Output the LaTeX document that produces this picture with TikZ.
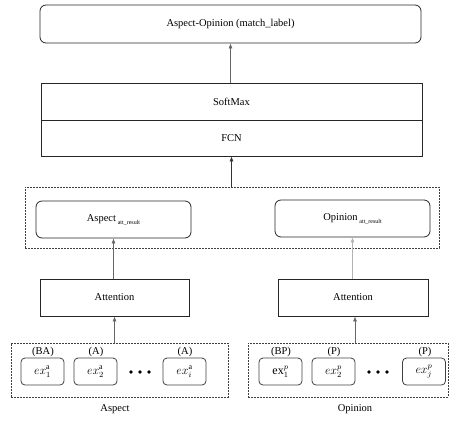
\documentclass[tikz,border=0pt]{standalone}
\usepackage{fontspec}
\setmainfont{Liberation Serif}
\usetikzlibrary{arrows.meta}
\begin{document}
\begin{tikzpicture}[x=1pt,y=-1pt,
  every node/.style={font=\fontsize{10.5}{12}\selectfont},
  rbox/.style={draw=black!85,line width=0.8pt,rounded corners=6pt,minimum height=37pt,inner sep=0pt},
  sbox/.style={draw=black!85,line width=0.8pt,minimum height=37pt,inner sep=0pt},
  exbox/.style={draw=black!75,line width=0.8pt,rounded corners=4pt,minimum width=43pt,minimum height=27pt,inner sep=0pt,font=\fontsize{12}{14}\selectfont},
  dbox/.style={draw=black!75,dashed,dash pattern=on 2pt off 1pt,line width=0.6pt,inner sep=0pt},
  arr/.style={draw=black!60,line width=0.6pt,-{Latex[length=5pt,width=4pt]}},
  lab/.style={inner sep=0pt,font=\fontsize{10.5}{12}\selectfont},
  dotm/.style={fill=black,circle,inner sep=0pt,minimum size=3.6pt}]
\useasboundingbox (0,0) rectangle (449,421);

\node[rbox,minimum width=381pt,minimum height=38pt] (top) at (230.5,24) {Aspect-Opinion (match\_label)};
\node[sbox,minimum width=381pt,minimum height=37pt] (soft) at (231.5,101.5) {SoftMax};
\node[sbox,minimum width=381pt,minimum height=36pt] (fcn) at (231.5,138) {FCN};

\node[dbox,minimum width=414pt,minimum height=61pt] (mid) at (232,217.5) {};
\node[rbox,minimum width=155pt] (asp) at (113.5,219.5) {Aspect\,\raisebox{-3pt}{\fontsize{6}{7}\selectfont att\_result}};
\node[rbox,minimum width=155pt] (opi) at (352.5,218.5) {Opinion\,\raisebox{-3pt}{\fontsize{6}{7}\selectfont att\_result}};

\node[sbox,minimum width=149pt] (attl) at (114.5,297.5) {Attention};
\node[sbox,minimum width=150pt] (attr) at (353,297.5) {Attention};

\node[dbox,minimum width=217pt,minimum height=54pt] (inl) at (119.5,370) {};
\node[dbox,minimum width=200pt,minimum height=54pt] (inr) at (348.2,370) {};

\node[exbox] (a1) at (42.5,371.5) {$ex_1^{\mathrm{a}}$};
\node[exbox] (a2) at (95.5,371.5) {$ex_2^{\mathrm{a}}$};
\node[exbox] (ai) at (184.5,371.5) {$ex_i^{\mathrm{a}}$};
\node[exbox] (p1) at (280.5,371.5) {$\mathrm{ex}_1^{p}$};
\node[exbox] (p2) at (333.5,371.5) {$ex_2^{p}$};
\node[exbox] (pj) at (424,371.5) {$ex_j^{p}$};

\node[lab] (la1) at (43,352) {(BA)};
\node[lab] (la2) at (96,352) {(A)};
\node[lab] (lai) at (185,352) {(A)};
\node[lab] (lp1) at (281,352) {(BP)};
\node[lab] (lp2) at (334,352) {(P)};
\node[lab] (lpj) at (425,352) {(P)};

\node[dotm] (d1) at (131,372) {};
\node[dotm] (d2) at (140,372) {};
\node[dotm] (d3) at (149,372) {};
\node[dotm] (d4) at (369,372) {};
\node[dotm] (d5) at (378,372) {};
\node[dotm] (d6) at (387,372) {};

\node[lab] (asplab) at (115,409) {Aspect};
\node[lab] (opilab) at (355,409) {Opinion};

\draw[arr] (soft.north -| top.south) -- (top.south);
\draw[arr,draw=black!80] (fcn.south |- mid.north) -- (fcn.south);
\draw[arr] (attl.north -| asp.south) -- (asp.south);
\draw[arr,draw=black!30] (attr.north -| opi.south) -- (opi.south);
\draw[arr] (attl.south |- inl.north) -- (attl.south);
\draw[arr] ([xshift=2pt]attr.south |- inr.north) -- ([xshift=2pt]attr.south);
\end{tikzpicture}
\end{document}
